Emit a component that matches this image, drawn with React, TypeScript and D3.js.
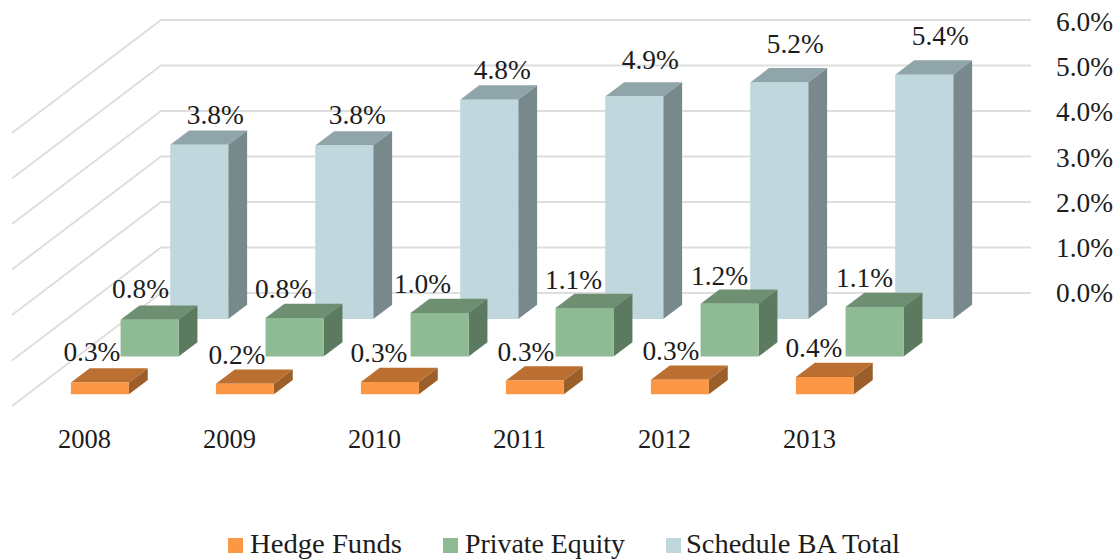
import React from "react";
import * as d3 from "d3";

const years = ["2008", "2009", "2010", "2011", "2012", "2013"];
const seriesNames = ["Schedule BA Total", "Private Equity", "Hedge Funds"];
const legendOrder = ["Hedge Funds", "Private Equity", "Schedule BA Total"];
const scheduleBA = [3.83, 3.81, 4.82, 4.89, 5.2, 5.37];
const privateEquity = [0.81, 0.85, 0.96, 1.07, 1.16, 1.09];
const hedgeFunds = [0.26, 0.23, 0.27, 0.3, 0.32, 0.38];
const yTicks = [0, 1, 2, 3, 4, 5, 6];

const valuesByName: Record<string, number[]> = {
  "Schedule BA Total": scheduleBA,
  "Private Equity": privateEquity,
  "Hedge Funds": hedgeFunds,
};
const colors: Record<string, { front: string; top: string; side: string }> = {
  "Schedule BA Total": { front: "#bfd7dd", top: "#90a5a9", side: "#78898c" },
  "Private Equity": { front: "#8fbb94", top: "#6e8f71", side: "#5c7a60" },
  "Hedge Funds": { front: "#fb9744", top: "#bb7033", side: "#9c5f2b" },
};
// label placement relative to the front face of a bar, one entry per year
const labelDx: Record<string, number[]> = {
  "Schedule BA Total": [16, 13, 13, 16, 16, 16],
  "Private Equity": [-9, -11, -17, -11, -10, -10],
  "Hedge Funds": [-8, -8, -11, -9, -9, -11],
};
const labelDy: Record<string, number[]> = {
  "Schedule BA Total": [-21, -22, -21, -27, -29, -30],
  "Private Equity": [-22, -20, -20, -19, -19, -20],
  "Hedge Funds": [-21, -20, -20, -20, -20, -20],
};
const legendLayout: Record<string, { swatch: number; text: number; width: number }> = {
  "Hedge Funds": { swatch: 228, text: 250, width: 152 },
  "Private Equity": { swatch: 443, text: 465, width: 160 },
  "Schedule BA Total": { swatch: 666, text: 686, width: 214 },
};

const SLOPE = 0.758;
const DEPTH = 149;
const FONT = "'Liberation Serif', serif";
const INK = "#1c1c1c";

const x = d3.scaleBand<string>().domain(years).range([161, 1031]).paddingInner(0.6).paddingOuter(0.3);
const y = d3.scaleLinear().domain([0, 6]).range([293, 20]);
const yLabel = d3.scaleLinear().domain([0, 6]).range([302, 31]); // axis text baselines
const z = d3.scaleBand<string>().domain(seriesNames).range([0, DEPTH]).paddingInner(0.62).paddingOuter(0.31);

// oblique projection: depth moves a point left and down
const px = (xv: number, d: number) => xv - d;
const py = (v: number, d: number) => y(v) + d * SLOPE;
const line = d3.line();

function Bar({ name, i }: { name: string; i: number }) {
  const v = valuesByName[name][i];
  const c = colors[name];
  const x0 = x(years[i])!;
  const x1 = x0 + x.bandwidth();
  const back = z(name)!;
  const front = back + z.bandwidth();
  const p = (xv: number, val: number, d: number): [number, number] => [px(xv, d), py(val, d)];
  return (
    <g>
      <path d={line([p(x0, v, front), p(x1, v, front), p(x1, v, back), p(x0, v, back)])! + "Z"} fill={c.top} />
      <path d={line([p(x1, 0, front), p(x1, v, front), p(x1, v, back), p(x1, 0, back)])! + "Z"} fill={c.side} />
      <path d={line([p(x0, 0, front), p(x1, 0, front), p(x1, v, front), p(x0, v, front)])! + "Z"} fill={c.front} />
    </g>
  );
}

function Label({ name, i }: { name: string; i: number }) {
  const v = valuesByName[name][i];
  const front = z(name)! + z.bandwidth();
  const cx = px(x(years[i])! + x.bandwidth() / 2, front) + labelDx[name][i];
  return (
    <text x={cx - 28.5} y={py(v, front) + labelDy[name][i]} textLength={57} lengthAdjust="spacingAndGlyphs" fontSize={28} fill={INK}>
      {d3.format(".1f")(v)}%
    </text>
  );
}

export default function App() {
  return (
    <svg width={1120} height={560} fontFamily={FONT} style={{ position: "absolute", left: 0, top: 0 }}>
      <defs>
        <filter id="soft" x="-5%" y="-5%" width="110%" height="110%">
          <feGaussianBlur stdDeviation="0.5" />
        </filter>
      </defs>
      <rect width={1120} height={560} fill="#fff" />
      <g filter="url(#soft)">
        {yTicks.map((t) => (
          <path
            key={t}
            d={line([[px(161, DEPTH), py(t, DEPTH)], [161, y(t)], [1031, y(t)]])!}
            fill="none"
            stroke="#dedede"
            strokeWidth={2}
          />
        ))}
        {seriesNames.map((name) => (
          <g key={name}>
            {years.map((yr, i) => (
              <Bar key={yr} name={name} i={i} />
            ))}
          </g>
        ))}
        {legendOrder.map((name) => (
          <rect key={name} x={legendLayout[name].swatch} y={538} width={15} height={15} fill={colors[name].front} />
        ))}
      </g>
      {seriesNames.map((name) =>
        years.map((yr, i) => <Label key={name + yr} name={name} i={i} />)
      )}
      {yTicks.map((t) => (
        <text key={t} x={1056} y={yLabel(t)} textLength={57} lengthAdjust="spacingAndGlyphs" fontSize={28} fill={INK}>
          {d3.format(".1f")(t)}%
        </text>
      ))}
      {years.map((yr) => (
        <text
          key={yr}
          x={px(x(yr)! + x.bandwidth() / 2, DEPTH) - 26.5}
          y={448}
          textLength={53}
          lengthAdjust="spacingAndGlyphs"
          fontSize={27}
          fill={INK}
        >
          {yr}
        </text>
      ))}
      {legendOrder.map((name) => (
        <text
          key={name}
          x={legendLayout[name].text}
          y={553}
          textLength={legendLayout[name].width}
          lengthAdjust="spacingAndGlyphs"
          fontSize={28}
          fill={INK}
        >
          {name}
        </text>
      ))}
    </svg>
  );
}
